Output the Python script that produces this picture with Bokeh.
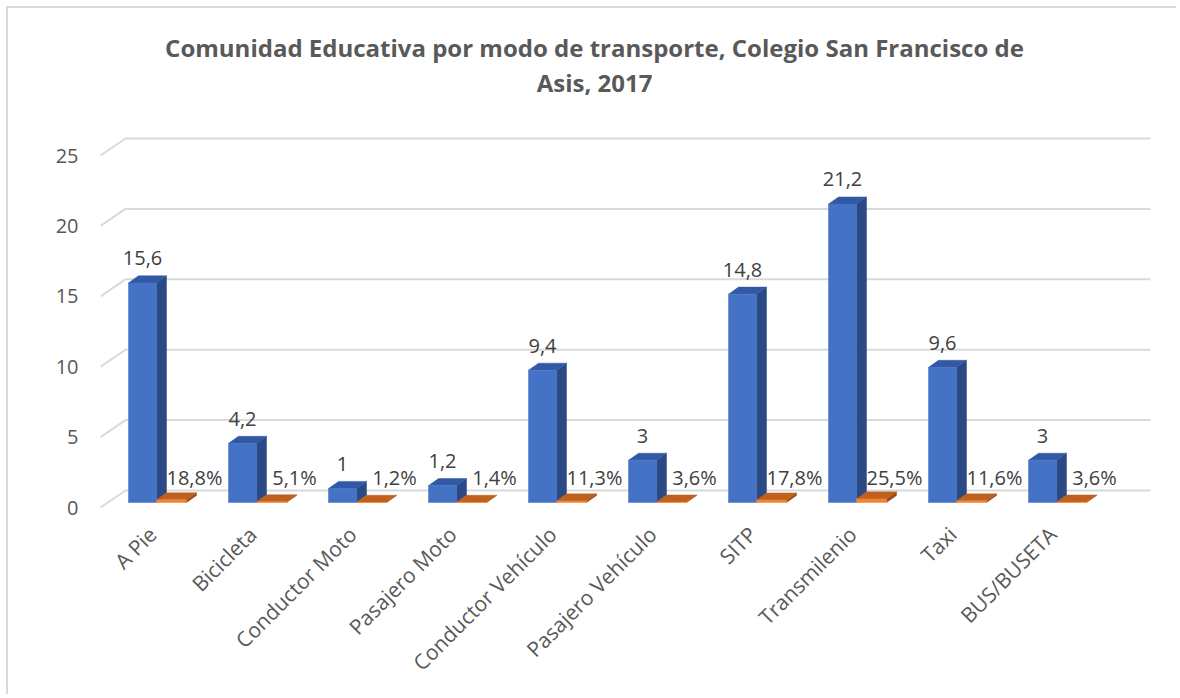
import math
from bokeh.plotting import figure
from bokeh.models import FixedTicker, Range1d, CustomJSTickFormatter
from bokeh.embed import file_html
from bokeh.resources import INLINE
from bokeh.core.properties import value

# ---------------- data ----------------
categories = ["A Pie", "Bicicleta", "Conductor Moto", "Pasajero Moto", "Conductor Vehículo",
              "Pasajero Vehículo", "SITP", "Transmilenio", "Taxi", "BUS/BUSETA"]
counts = [15.6, 4.2, 1, 1.2, 9.4, 3, 14.8, 21.2, 9.6, 3]
shares_pct = [18.8, 5.1, 1.2, 1.4, 11.3, 3.6, 17.8, 25.5, 11.6, 3.6]
y_ticks = [0, 5, 10, 15, 20, 25]
title_lines = ["Comunidad Educativa por modo de transporte, Colegio San Francisco de",
               "Asis, 2017"]

count_labels = [("%g" % v).replace(".", ",") for v in counts]
share_labels = [("%.1f%%" % v).replace(".", ",") for v in shares_pct]
shares = [v / 100.0 for v in shares_pct]

# ---------------- style / geometry constants ----------------
FONT = "Open Sans"
TXT = "#595959"
LBL = "#404040"
GRID = "#D9D9D9"
X0, X1 = -0.57, 9.95
Y0, Y1 = -0.355, 35.16
FLOOR_DX, FLOOR_DY = 0.25, 1.207
BAR_Y0 = 0.355
BAR_DX, BAR_DY = 0.10, 0.50
LABEL_SHIFT = -0.05
BLUE = ("#4472C4", "#2B4A85", "#3259A6")
ORANGE = ("#F08434", "#9C4815", "#C0601E")

p = figure(width=1170, height=688, output_backend="svg", toolbar_location=None,
           x_range=Range1d(X0, X1), y_range=Range1d(Y0, Y1),
           min_border_left=92, min_border_right=26, min_border_top=4, min_border_bottom=184)
p.outline_line_color = None
p.xgrid.visible = False
p.ygrid.visible = False
p.background_fill_color = "white"
p.border_fill_color = "white"
p.styles = {"border-left": "2px solid #D9D9D9", "border-top": "2px solid #D9D9D9",
            "margin-left": "6px", "margin-top": "6px"}

# title (two centred lines)
p.text(x=[4.37, 4.37], y=[32.67, 30.18], text=title_lines, text_font=value(FONT),
       text_font_size="24px", text_font_style="bold", text_color=TXT,
       text_align="center", text_baseline="middle")

# gridlines (3D floor/back wall style)
gx, gy = [], []
for v in y_ticks:
    gx.append([X0, X0 + FLOOR_DX, X1 - 0.02])
    gy.append([v, v + FLOOR_DY, v + FLOOR_DY])
p.multi_line(gx, gy, line_color=GRID, line_width=2)

# bars
def box(x_left, x_right, h, colors):
    front, side, top = colors
    ya, yb = BAR_Y0, BAR_Y0 + h
    fx = [[x_left, x_right, x_right, x_left]]
    fy = [[ya, ya, yb, yb]]
    sx = [[x_right, x_right + BAR_DX, x_right + BAR_DX, x_right]]
    sy = [[ya, ya + BAR_DY, yb + BAR_DY, yb]]
    tx = [[x_left, x_right, x_right + BAR_DX, x_left + BAR_DX]]
    ty = [[yb, yb, yb + BAR_DY, yb + BAR_DY]]
    p.patches(sx, sy, fill_color=side, line_color=side, line_width=0.5)
    p.patches(tx, ty, fill_color=top, line_color=top, line_width=0.5)
    p.patches(fx, fy, fill_color=front, line_color=front, line_width=0.5)

for i, (c, s) in enumerate(zip(counts, shares)):
    box(i - 0.29, i - 0.01, c, BLUE)
    box(i - 0.01, i + 0.29, s, ORANGE)

# data labels
p.text(x=[i - 0.15 for i in range(len(counts))], y=[BAR_Y0 + c + 1.75 for c in counts],
       text=count_labels, text_font=value(FONT), text_font_size="20px", text_color=LBL,
       text_align="center", text_baseline="middle")
p.text(x=[i + 0.37 for i in range(len(shares))], y=[2.13 for _ in shares],
       text=share_labels, text_font=value(FONT), text_font_size="20px", text_color=LBL,
       text_align="center", text_baseline="middle")

# axes
p.xaxis.ticker = FixedTicker(ticks=[i + LABEL_SHIFT for i in range(len(categories))])
p.xaxis.formatter = CustomJSTickFormatter(args=dict(cats=categories, sh=LABEL_SHIFT),
                                          code="return cats[Math.round(tick - sh)];")
p.xaxis.major_label_orientation = math.pi / 4
p.xaxis.axis_line_color = None
p.xaxis.major_tick_line_color = None
p.xaxis.minor_tick_line_color = None
p.xaxis.major_label_text_font = FONT
p.xaxis.major_label_text_font_size = "21px"
p.xaxis.major_label_text_color = TXT
p.xaxis.major_label_standoff = 12

p.yaxis.ticker = FixedTicker(ticks=y_ticks)
p.yaxis.axis_line_color = None
p.yaxis.major_tick_line_color = None
p.yaxis.minor_tick_line_color = None
p.yaxis.major_label_text_font = FONT
p.yaxis.major_label_text_font_size = "20px"
p.yaxis.major_label_text_color = TXT
p.yaxis.major_label_standoff = 16

open("out.html", "w").write(file_html(p, INLINE))
